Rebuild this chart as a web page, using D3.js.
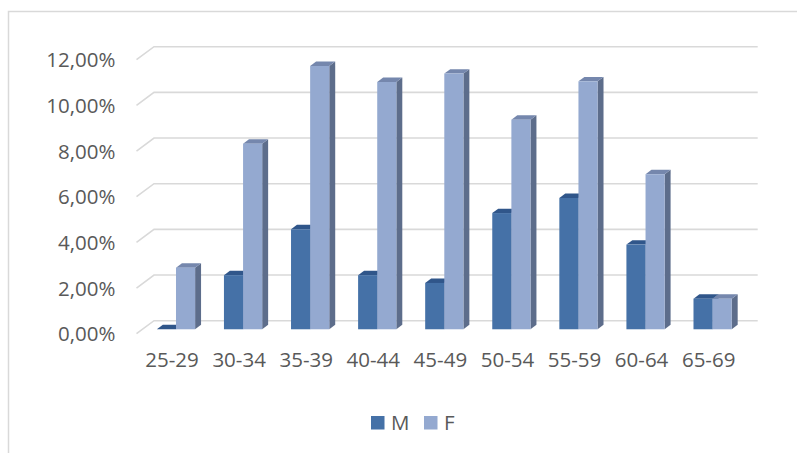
<!DOCTYPE html>
<html>
<head>
<meta charset="utf-8">
<script src="https://cdn.jsdelivr.net/npm/d3@7"></script>
<style>
  html, body { margin: 0; padding: 0; background: #fff; }
  svg { display: block; }
  text { font-family: "Open Sans", Lato, sans-serif; fill: #595959; }
</style>
</head>
<body>
<div id="chart"></div>
<script>
// Age groups and share (in %) per sex
const categories = ["25-29", "30-34", "35-39", "40-44", "45-49", "50-54", "55-59", "60-64", "65-69"];
const seriesNames = ["M", "F"];
const valuesM = [0.00, 2.37, 4.38, 2.37, 2.03, 5.09, 5.75, 3.71, 1.34];
const valuesF = [2.70, 8.13, 11.53, 10.83, 11.20, 9.18, 10.86, 6.79, 1.34];
const yTicks = [0, 2, 4, 6, 8, 10, 12];

const W = 797, H = 453;
const svg = d3.select("#chart").append("svg").attr("width", W).attr("height", H);

// chart frame
svg.append("rect")
  .attr("x", 8.5).attr("y", 11.5).attr("width", 800).attr("height", 460)
  .attr("fill", "none").attr("stroke", "#d9d9d9").attr("stroke-width", 1.5);

// back wall of the 3D plot area
const backLeft = 154, backRight = 757.7;
const y = d3.scaleLinear().domain([0, 12]).range([320.7, 46.7]);
// oblique depth: vector from back wall to front edge of the floor
const depth = { dx: -17.5, dy: 13 };
const barBackFrac = 0.32, barFrontFrac = 0.66;

const x0 = d3.scaleBand().domain(categories).range([backLeft, backRight])
  .paddingInner(0.43).paddingOuter(0.215);
const x1 = d3.scaleBand().domain(seriesNames).range([0, x0.bandwidth()]);

// gridlines: slanted floor edge + horizontal back line
const grid = svg.append("g");
yTicks.forEach(t => {
  const yb = y(t);
  grid.append("path")
    .attr("d", `M${backLeft + depth.dx},${yb + depth.dy}L${backLeft},${yb}L${backRight},${yb}`)
    .attr("fill", "none").attr("stroke", "#d9d9d9").attr("stroke-width", 1.6);
});

const fontSize = "20.5px";

// y axis labels, placed at the front edge of the floor
const fmt = d3.formatLocale({ decimal: ",", thousands: ".", grouping: [3], currency: ["", "€"] }).format(".2f");
const yFront = y.copy().range(y.range().map(v => v + depth.dy));
const yAxis = svg.append("g")
  .attr("transform", `translate(${backLeft + depth.dx},0)`)
  .call(d3.axisLeft(yFront).tickValues(yTicks).tickSize(0).tickPadding(21).tickFormat(d => fmt(d) + "%"));
yAxis.select(".domain").remove();
yAxis.selectAll("text").style("font-size", fontSize).attr("fill", "#595959")
  .style("font-family", "'Open Sans', sans-serif").attr("dy", "0.35em");

// x axis labels at the front edge of the floor
const xFront = x0.copy().range(x0.range().map(v => v + depth.dx));
const xAxis = svg.append("g")
  .attr("transform", `translate(${2},${y(0) + depth.dy})`)
  .call(d3.axisBottom(xFront).tickSize(0).tickPadding(19));
xAxis.select(".domain").remove();
xAxis.selectAll("text").style("font-size", fontSize).attr("fill", "#595959")
  .style("font-family", "'Open Sans', sans-serif");

// bar colours: front, top, side
const colors = {
  M: { front: "#4571A7", top: "#30568A", side: "#385D8C" },
  F: { front: "#94A9D0", top: "#7587AD", side: "#5D6D8B" }
};

const data = categories.map((c, i) => ({ cat: c, M: valuesM[i], F: valuesF[i] }));
const fx = barFrontFrac * depth.dx, fy = barFrontFrac * depth.dy;
const bdx = (barFrontFrac - barBackFrac) * -depth.dx, bdy = (barFrontFrac - barBackFrac) * -depth.dy;

const bars = svg.append("g");
data.forEach(d => {
  seriesNames.forEach(s => {
    const x = x0(d.cat) + x1(s) + fx;
    const w = x1.bandwidth();
    const top = y(d[s]) + fy, bottom = y(0) + fy;
    const g = bars.append("g");
    // right side face
    g.append("path")
      .attr("d", `M${x + w},${top}L${x + w + bdx},${top + bdy}L${x + w + bdx},${bottom + bdy}L${x + w},${bottom}Z`)
      .attr("fill", colors[s].side);
    // top face
    g.append("path")
      .attr("d", `M${x},${top}L${x + bdx},${top + bdy}L${x + w + bdx},${top + bdy}L${x + w},${top}Z`)
      .attr("fill", colors[s].top);
    // front face
    g.append("rect")
      .attr("x", x).attr("y", top).attr("width", w).attr("height", Math.max(0, bottom - top))
      .attr("fill", colors[s].front);
  });
});

// legend
const legend = svg.append("g").attr("transform", "translate(371,416)");
const legendItems = [{ s: "M", x: 0 }, { s: "F", x: 53 }];
legendItems.forEach(it => {
  legend.append("rect").attr("x", it.x).attr("y", 0).attr("width", 13.5).attr("height", 13.5)
    .attr("fill", colors[it.s].front);
  legend.append("text").attr("x", it.x + 20).attr("y", 14)
    .style("font-size", fontSize).text(it.s);
});
</script>
</body>
</html>
